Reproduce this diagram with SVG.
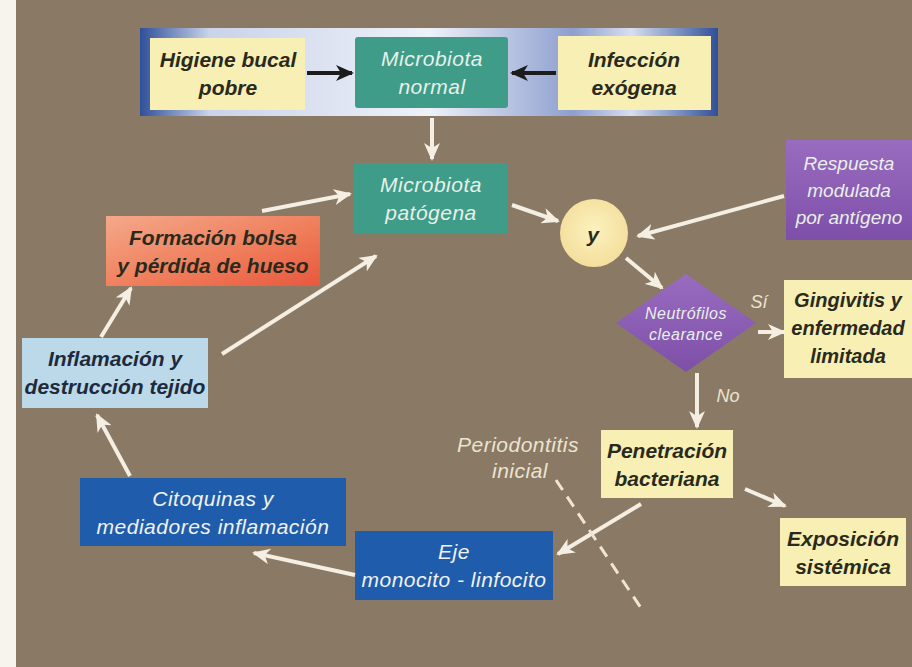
<svg xmlns="http://www.w3.org/2000/svg" width="912" height="667" viewBox="0 0 912 667">
<defs>
<marker id="aw" markerUnits="userSpaceOnUse" markerWidth="18" markerHeight="16" refX="16" refY="8" orient="auto"><path d="M0,0 L18,8 L0,16 L5,8 Z" fill="#f4efe2"/></marker>
<marker id="ab" markerUnits="userSpaceOnUse" markerWidth="18" markerHeight="16" refX="16" refY="8" orient="auto"><path d="M0,0 L18,8 L0,16 L5,8 Z" fill="#1c1c1c"/></marker>
<linearGradient id="banner" x1="0" y1="0" x2="1" y2="0">
<stop offset="0" stop-color="#2f4f9a"/><stop offset="0.12" stop-color="#c9d3ea"/><stop offset="0.5" stop-color="#eef1f8"/><stop offset="0.75" stop-color="#8d9fcf"/><stop offset="0.85" stop-color="#d8def0"/><stop offset="1" stop-color="#2f4f9a"/>
</linearGradient>
<linearGradient id="orange" x1="0" y1="0" x2="1" y2="1">
<stop offset="0" stop-color="#f4a98a"/><stop offset="0.6" stop-color="#ef7a58"/><stop offset="1" stop-color="#e8583e"/>
</linearGradient>
<linearGradient id="purple" x1="0" y1="0" x2="0" y2="1">
<stop offset="0" stop-color="#9a6cc0"/><stop offset="1" stop-color="#7d4fa8"/>
</linearGradient>
<radialGradient id="circ" cx="0.5" cy="0.45" r="0.6">
<stop offset="0" stop-color="#fbf2bf"/><stop offset="1" stop-color="#f4dc98"/>
</radialGradient>
<style>
.conn line, .conn path { stroke:#f4efe2; stroke-width:4; fill:none; marker-end:url(#aw); }
.conn .blk { stroke:#1c1c1c; marker-end:url(#ab); }
.conn .dash { stroke:#efe6d2; stroke-width:3; stroke-dasharray:12 8; marker-end:none; }
.yel { fill:#f7efb4; }
.teal { fill:#3e9c88; }
.blue { fill:#1f5cab; }
text { font-family:"Liberation Sans", Arial, sans-serif; font-style:italic; font-size:21px; text-anchor:middle; }
.dk { fill:#2a2a1c; font-weight:bold; }
.wt { fill:#e8f0ea; letter-spacing:0.5px; }
.wtb { fill:#f2f2f2; letter-spacing:0.5px; }
.nv { fill:#1e2a3c; font-weight:bold; }
.lb { fill:#ece4cf; }
.rs { fill:#e8f0ea; font-size:19px; }
</style>
</defs>
<rect x="0" y="0" width="912" height="667" fill="#8a7965"/>
<rect x="0" y="0" width="16" height="667" fill="#f7f4ee"/>

<g id="banner-bg"><rect x="140" y="28" width="578" height="88" fill="url(#banner)"/></g>

<g id="higiene"><rect class="yel" x="150" y="38" width="155" height="72"/><text class="dk" x="228" y="67">Higiene bucal</text><text class="dk" x="228" y="95">pobre</text></g>
<g id="micro-normal"><rect class="teal" x="355" y="37" width="153" height="71" rx="3"/><text class="wt" x="432" y="66">Microbiota</text><text class="wt" x="432" y="94">normal</text></g>
<g id="infeccion"><rect class="yel" x="558" y="36" width="153" height="74"/><text class="dk" x="634" y="67">Infección</text><text class="dk" x="634" y="95">exógena</text></g>

<g id="micro-patogena"><rect class="teal" x="354" y="163" width="154" height="71"/><text class="wt" x="431" y="192">Microbiota</text><text class="wt" x="431" y="220">patógena</text></g>
<g id="formacion"><rect x="106" y="216" width="214" height="70" fill="url(#orange)"/><text class="dk" x="213" y="245">Formación bolsa</text><text class="dk" x="213" y="273">y pérdida de hueso</text></g>
<g id="inflamacion"><rect x="22" y="338" width="186" height="70" fill="#bcd9ea"/><text class="nv" x="115" y="366">Inflamación y</text><text class="nv" x="115" y="394">destrucción tejido</text></g>
<g id="y"><circle cx="594" cy="233" r="34" fill="url(#circ)"/><text class="dk" x="593" y="242" font-size="24">y</text></g>
<g id="respuesta"><rect x="786" y="140" width="126" height="100" fill="url(#purple)"/><text class="rs" x="849" y="170">Respuesta</text><text class="rs" x="849" y="197">modulada</text><text class="rs" x="849" y="224">por antígeno</text></g>
<g id="neutrofilos"><polygon points="686,274 756,323 686,372 616,323" fill="url(#purple)"/><text class="wt" x="686" y="319" style="font-size:16px">Neutrófilos</text><text class="wt" x="686" y="340" style="font-size:16px">clearance</text></g>
<g id="gingivitis"><rect class="yel" x="784" y="280" width="128" height="98"/><text class="dk" x="848" y="307" style="font-size:20px">Gingivitis y</text><text class="dk" x="848" y="335" style="font-size:20px">enfermedad</text><text class="dk" x="848" y="363" style="font-size:20px">limitada</text></g>
<g id="penetracion"><rect class="yel" x="601" y="430" width="132" height="68"/><text class="dk" x="667" y="458">Penetración</text><text class="dk" x="667" y="486">bacteriana</text></g>
<g id="exposicion"><rect class="yel" x="780" y="518" width="126" height="68"/><text class="dk" x="843" y="546">Exposición</text><text class="dk" x="843" y="574">sistémica</text></g>
<g id="citoquinas"><rect class="blue" x="80" y="478" width="266" height="68"/><text class="wtb" x="213" y="506">Citoquinas y</text><text class="wtb" x="213" y="534">mediadores inflamación</text></g>
<g id="eje"><rect class="blue" x="355" y="531" width="198" height="69"/><text class="wtb" x="454" y="559">Eje</text><text class="wtb" x="454" y="587">monocito - linfocito</text></g>
<g id="periodontitis"><text class="lb" x="518" y="452" style="letter-spacing:0.5px">Periodontitis</text><text class="lb" x="520" y="478" style="letter-spacing:0.5px">inicial</text></g>

<g class="conn">
<line class="blk" x1="307" y1="73" x2="352" y2="73"/>
<line class="blk" x1="556" y1="73" x2="512" y2="73"/>
<line x1="432" y1="118" x2="432" y2="159"/>
<line x1="262" y1="211" x2="350" y2="194"/>
<line x1="222" y1="354" x2="376" y2="256"/>
<line x1="101" y1="337" x2="131" y2="288"/>
<line x1="130" y1="476" x2="97" y2="415"/>
<line x1="355" y1="575" x2="254" y2="553"/>
<line x1="641" y1="504" x2="558" y2="554"/>
<line x1="745" y1="489" x2="785" y2="506"/>
<line x1="512" y1="205" x2="558" y2="221"/>
<line x1="784" y1="196" x2="638" y2="236"/>
<line x1="626" y1="258" x2="662" y2="288"/>
<line x1="758" y1="332" x2="784" y2="332"/>
<line x1="697" y1="373" x2="697" y2="427"/>
<line class="dash" x1="556" y1="480" x2="641" y2="608"/>
</g>
<g id="labels"><text class="lb" x="759" y="308" style="font-size:18px">Sí</text><text class="lb" x="728" y="402" style="font-size:18px">No</text></g>
</svg>
